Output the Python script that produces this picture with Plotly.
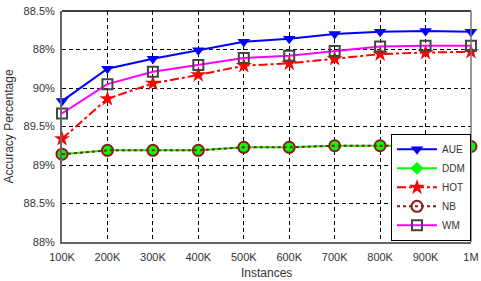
import plotly.graph_objects as go

instances = ["100K", "200K", "300K", "400K", "500K", "600K", "700K", "800K", "900K", "1M"]
aue = [89.83, 90.25, 90.38, 90.49, 90.60, 90.64, 90.70, 90.73, 90.74, 90.73]
ddm = [89.14, 89.19, 89.19, 89.19, 89.23, 89.23, 89.25, 89.25, 89.25, 89.24]
hot = [89.34, 89.86, 90.06, 90.17, 90.29, 90.32, 90.38, 90.44, 90.46, 90.47]
nb = [89.14, 89.19, 89.19, 89.19, 89.23, 89.23, 89.25, 89.25, 89.25, 89.24]
wm = [89.67, 90.05, 90.21, 90.30, 90.39, 90.42, 90.48, 90.54, 90.55, 90.55]
ytick_vals = [88, 88.5, 89, 89.5, 90, 90.5, 91]
ytick_text = ["88%", "88.5%", "89%", "89.5%", "90%", "88%", "88.5%"]

FONT = "Liberation Sans, Arial, sans-serif"
fig = go.Figure()
fig.add_trace(go.Scatter(x=instances, y=aue, name="AUE", mode="lines+markers",
                         line=dict(color="#0000ff", width=2),
                         marker=dict(symbol="triangle-down", size=11, color="#0000ff"),
                         cliponaxis=False))
fig.add_trace(go.Scatter(x=instances, y=ddm, name="DDM", mode="lines+markers",
                         line=dict(color="#00ff00", width=2),
                         marker=dict(symbol="diamond", size=10, color="#00ff00"),
                         cliponaxis=False))
fig.add_trace(go.Scatter(x=instances, y=hot, name="HOT", mode="lines+markers",
                         line=dict(color="#ff0000", width=2, dash="dashdot"),
                         marker=dict(symbol="star", size=12, color="#ff0000"),
                         cliponaxis=False))
fig.add_trace(go.Scatter(x=instances, y=nb, name="NB", mode="lines+markers",
                         line=dict(color="#8b1a1a", width=2, dash="dot"),
                         marker=dict(symbol="circle-open", size=11, color="#8b1a1a",
                                     line=dict(width=2, color="#8b1a1a")),
                         cliponaxis=False))
fig.add_trace(go.Scatter(x=instances, y=wm, name="WM", mode="lines+markers",
                         line=dict(color="#ff00ff", width=2),
                         marker=dict(symbol="square-open", size=10, color="#444444",
                                     line=dict(width=2, color="#444444")),
                         cliponaxis=False))

fig.update_layout(
    width=481, height=281,
    margin=dict(l=62, r=10, t=11, b=39, autoexpand=False),
    paper_bgcolor="white", plot_bgcolor="white",
    font=dict(family=FONT, size=11, color="#333333"),
    showlegend=True,
    legend=dict(x=1, y=0.005, xanchor="right", yanchor="bottom",
                bgcolor="white", bordercolor="black", borderwidth=1,
                font=dict(size=10, color="#333333"),
                tracegroupgap=0, itemwidth=40),
)
fig.update_xaxes(
    type="category", range=[0, 9], automargin=False,
    showgrid=True, gridcolor="black", gridwidth=1, griddash="4px,3px",
    showline=True, linecolor="#666666", linewidth=2, mirror=False,
    ticks="outside", ticklen=4, tickcolor="rgba(0,0,0,0)",
    tickfont=dict(size=11, color="#333333"),
    zeroline=False,
)
fig.update_yaxes(
    range=[88, 91], tickvals=ytick_vals, ticktext=ytick_text, automargin=False,
    showgrid=True, gridcolor="black", gridwidth=1, griddash="4px,3px",
    showline=True, linecolor="#666666", linewidth=2,
    ticks="outside", ticklen=3, tickcolor="rgba(0,0,0,0)",
    tickfont=dict(size=11, color="#333333"),
    zeroline=False,
)
fig.add_annotation(text="Instances", xref="paper", yref="paper", x=0.5, y=0,
                   yshift=-31, showarrow=False, yanchor="middle",
                   font=dict(size=12, color="#333333"))
fig.add_annotation(text="Accuracy Percentage", xref="paper", yref="paper", x=0, y=0.5,
                   xshift=-54, showarrow=False, textangle=-90, xanchor="center",
                   font=dict(size=12, color="#333333"))
# top and right frame
fig.add_shape(type="line", xref="paper", yref="paper", x0=0, x1=1, y0=1, y1=1,
              line=dict(color="black", width=1.5))
fig.add_shape(type="line", xref="paper", yref="paper", x0=1, x1=1, y0=0, y1=1,
              line=dict(color="#777777", width=1.5))
fig.write_html("out.html", config={"displayModeBar": False},
               post_script="document.body.style.margin='0';document.body.style.overflow='hidden';")
